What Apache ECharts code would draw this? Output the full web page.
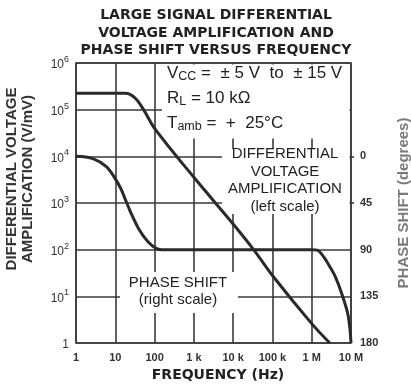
<!DOCTYPE html>
<html>
<head>
<meta charset="utf-8">
<script src="https://cdn.jsdelivr.net/npm/echarts@6/dist/echarts.min.js"></script>
<style>html,body{margin:0;padding:0;background:#fff}#c{width:411px;height:388px}</style>
</head>
<body>
<div id="c"></div>
<script>
// Frequency axis tick labels (decades 10^0 .. 10^7)
const freqTickLabels = ['1', '10', '100', '1 k', '10 k', '100 k', '1 M', '10 M'];
// Left scale exponents (10^0 .. 10^6)
const gainExponents = [0, 1, 2, 3, 4, 5, 6];
// Right scale (phase, degrees)
const phaseTicks = [0, 45, 90, 135, 180];

// Differential voltage amplification (V/mV) vs frequency (Hz)
const ampFreq = [1, 10, 18.2, 31.6, 52.5, 100, 1000, 10000, 33900, 100000, 1000000, 2880000];
const ampGain = [224000, 224000, 224000, 178000, 100000, 39800, 3550, 355, 98, 28, 2.6, 1];

// Phase shift (degrees) vs frequency (Hz)
const phaseFreq = [1, 2.7, 5.9, 9.4, 13.8, 18.2, 24, 38.9, 69, 112, 148, 1000000, 1380000, 2110000, 2750000, 3980000, 6000000, 8500000, 10000000];
const phaseDeg  = [0, 2.2, 10, 20, 31, 42, 53, 69.5, 82.6, 89, 90, 90, 90.5, 98, 105, 116, 134, 154, 180];

const INK = '#2a2a2a';
const GRID = '#3a3a3a';

const chart = echarts.init(document.getElementById('c'), null, {renderer: 'canvas'});

const ampData = ampFreq.map((f, i) => [f, ampGain[i]]);
const phaseData = phaseFreq.map((f, i) => [f, phaseDeg[i]]);

const condRich = {
  v: {fontFamily: 'Liberation Sans', fontSize: 17, lineHeight: 21, fill: '#222'},
  s: {fontFamily: 'Liberation Sans', fontSize: 12.5, lineHeight: 12.5, verticalAlign: 'bottom', fill: '#222'}
};

chart.setOption({
  backgroundColor: '#fff',
  animation: false,
  title: {
    text: 'LARGE SIGNAL DIFFERENTIAL\nVOLTAGE AMPLIFICATION AND\nPHASE SHIFT VERSUS FREQUENCY',
    left: 211, top: 2, textAlign: 'center',
    textStyle: {fontFamily: 'DejaVu Sans', fontWeight: 'bold', fontSize: 14, lineHeight: 17.5, color: '#222'}
  },
  grid: {left: 76, right: 60, top: 63, bottom: 45, show: true, borderColor: GRID, borderWidth: 1.6, backgroundColor: 'transparent'},
  xAxis: {
    type: 'log', logBase: 10, min: 1, max: 1e7, splitNumber: 7,
    axisLine: {show: false}, axisTick: {show: false},
    splitLine: {show: true, lineStyle: {color: GRID, width: 1.6}},
    axisLabel: {
      margin: 9, color: '#333', fontFamily: 'Liberation Sans', fontWeight: 'bold', fontSize: 11,
      formatter: v => freqTickLabels[Math.round(Math.log10(v))]
    }
  },
  yAxis: [{
    type: 'log', logBase: 10, min: 1, max: 1e6, splitNumber: 6,
    axisLine: {show: false}, axisTick: {show: false},
    splitLine: {show: true, lineStyle: {color: GRID, width: 1.6}},
    axisLabel: {
      margin: 7,
      formatter: v => {
        const e = gainExponents[Math.round(Math.log10(v))];
        return e === 0 ? '{b|1}' : '{b|10}{s|' + e + '}';
      },
      rich: {
        b: {fontFamily: 'Liberation Sans', fontSize: 12, color: '#333', lineHeight: 16, verticalAlign: 'bottom'},
        s: {fontFamily: 'Liberation Sans', fontSize: 9, color: '#333', lineHeight: 10, verticalAlign: 'top'}
      }
    }
  }, {
    type: 'value', position: 'right', min: -90, max: 180, interval: 45, inverse: true,
    axisLine: {show: false},
    axisTick: {show: true, length: 3, customValues: [0, 45], lineStyle: {color: GRID, width: 1.6}},
    splitLine: {show: false},
    axisLabel: {
      margin: 9, color: '#333', fontFamily: 'Liberation Sans', fontWeight: 'bold', fontSize: 11,
      customValues: phaseTicks,
      formatter: v => (v < 0 ? '' : String(v))
    }
  }],
  graphic: [
    {type: 'rect', z: 1, silent: true, shape: {x: 162, y: 64.6, width: 187.5, height: 74}, style: {fill: '#fff'}},
    {type: 'rect', z: 1, silent: true, shape: {x: 222, y: 149, width: 127.5, height: 65}, style: {fill: '#fff'}},
    {type: 'rect', z: 1, silent: true, shape: {x: 120, y: 272, width: 118, height: 41}, style: {fill: '#fff'}},
    {type: 'text', z: 5, x: 167, y: 73, style: {
      text: '{v|V}{s|CC}{v| =  ± 5 V  to  ± 15 V}', textAlign: 'left', verticalAlign: 'middle', textVerticalAlign: 'middle',
      rich: condRich}},
    {type: 'text', z: 5, x: 167, y: 98, style: {
      text: '{v|R}{s|L}{v| = 10 kΩ}', textAlign: 'left', verticalAlign: 'middle', textVerticalAlign: 'middle',
      rich: condRich}},
    {type: 'text', z: 5, x: 167, y: 123, style: {
      text: '{v|T}{s|amb}{v| =  +  25°C}', textAlign: 'left', verticalAlign: 'middle', textVerticalAlign: 'middle',
      rich: condRich}},
    {type: 'text', z: 5, x: 285, y: 180.5, style: {
      text: 'DIFFERENTIAL\nVOLTAGE\nAMPLIFICATION\n(left scale)', textAlign: 'center', verticalAlign: 'middle', textVerticalAlign: 'middle',
      fontFamily: 'Liberation Sans', fontSize: 15, lineHeight: 17.5, fill: '#222'}},
    {type: 'text', z: 5, x: 178, y: 291.5, style: {
      text: 'PHASE SHIFT\n(right scale)', textAlign: 'center', verticalAlign: 'middle', textVerticalAlign: 'middle',
      fontFamily: 'Liberation Sans', fontSize: 15, lineHeight: 17, fill: '#222'}},
    {type: 'text', z: 5, x: 20, y: 179, rotation: Math.PI / 2, style: {
      text: 'DIFFERENTIAL VOLTAGE\nAMPLIFICATION (V/mV)', textAlign: 'center', verticalAlign: 'middle', textVerticalAlign: 'middle',
      fontFamily: 'Liberation Sans', fontWeight: 'bold', fontSize: 15, lineHeight: 15.5, fill: '#333'}},
    {type: 'text', z: 5, x: 404, y: 203, rotation: Math.PI / 2, style: {
      text: 'PHASE SHIFT (degrees)', textAlign: 'center', verticalAlign: 'middle', textVerticalAlign: 'middle',
      fontFamily: 'Liberation Sans', fontWeight: 'bold', fontSize: 15, fill: '#7a7a7a'}},
    {type: 'text', z: 5, x: 218, y: 375, style: {
      text: 'FREQUENCY (Hz)', textAlign: 'center', verticalAlign: 'middle', textVerticalAlign: 'middle',
      fontFamily: 'DejaVu Sans', fontWeight: 'bold', fontSize: 14, fill: '#222'}}
  ],
  series: [{
    name: 'Differential voltage amplification', type: 'line', xAxisIndex: 0, yAxisIndex: 0, z: 3,
    data: ampData, showSymbol: false, smooth: 0.35,
    lineStyle: {color: INK, width: 3}
  }, {
    name: 'Phase shift', type: 'line', xAxisIndex: 0, yAxisIndex: 1, z: 3,
    data: phaseData, showSymbol: false, smooth: 0.35,
    lineStyle: {color: INK, width: 3}
  }]
});
</script>
</body>
</html>
